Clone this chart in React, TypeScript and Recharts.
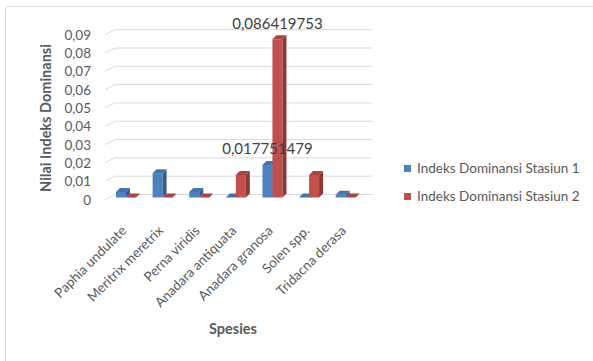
import { BarChart, Bar, XAxis, YAxis, CartesianGrid, LabelList, Label } from 'recharts';

const species = [
  'Paphia undulate',
  'Meritrix meretrix',
  'Perna viridis',
  'Anadara antiquata',
  'Anadara granosa',
  'Solen spp.',
  'Tridacna derasa',
];
const stasiun1 = [0.003, 0.0133, 0.003, 0, 0.017751479, 0, 0.0015];
const stasiun2 = [0, 0, 0, 0.012345679, 0.086419753, 0.012345679, 0];
const yTicks = [0, 0.01, 0.02, 0.03, 0.04, 0.05, 0.06, 0.07, 0.08, 0.09];
const labeled = ['Anadara granosa'];
const seriesNames = ['Indeks Dominansi Stasiun 1', 'Indeks Dominansi Stasiun 2'];

const FONT = 'Lato, "Open Sans", sans-serif';
const TEXT = '#595959';
const BLUE = '#4F81BD';
const RED = '#C0504D';
const DEPTH = 4;

const fmt = (v: number) => (v === 0 ? '0' : v.toString().replace('.', ','));

const data = species.map((name, i) => ({
  name,
  s1: stasiun1[i],
  s2: stasiun2[i],
  l1: labeled.includes(name) ? fmt(stasiun1[i]) : '',
  l2: labeled.includes(name) ? fmt(stasiun2[i]) : '',
}));

// fake 3d: front face, darker side, top
function shade(front: string, side: string, top: string) {
  return (props: any) => {
    const { x, y, width, height } = props;
    const h = Math.max(height || 0, 0);
    const d = DEPTH;
    return (
      <g>
        <rect x={x} y={y} width={width} height={h} fill={front} />
        <polygon
          points={`${x + width},${y} ${x + width + d},${y - d} ${x + width + d},${y + h - d} ${x + width},${y + h}`}
          fill={side}
        />
        <polygon
          points={`${x},${y} ${x + d},${y - d} ${x + width + d},${y - d} ${x + width},${y}`}
          fill={top}
        />
      </g>
    );
  };
}

const gridLine = (props: any) => {
  const { x1, x2, y1, index } = props;
  return (
    <path
      key={`g-${index}`}
      d={`M${x1 - 3},${y1 + 2} L${x1 + 7},${y1 - 3} L${x2 + 8},${y1 - 3}`}
      stroke="#d9d9d9"
      strokeWidth={1}
      fill="none"
    />
  );
};

const YTick = (props: any) => {
  const { y, payload } = props;
  return (
    <text x={91} y={y + 2} textAnchor="end" dominantBaseline="central" fill={TEXT} fontSize={13.5} fontFamily={FONT}>
      {payload.value === 0 ? '0' : payload.value.toFixed(2).replace('.', ',')}
    </text>
  );
};

const XTick = (props: any) => {
  const { x, y, payload } = props;
  const ax = x + 1;
  const ay = y + 26;
  return (
    <text x={ax} y={ay} textAnchor="end" transform={`rotate(-45, ${ax}, ${ay})`} fill={TEXT} fontSize={13.5} fontFamily={FONT}>
      {payload.value}
    </text>
  );
};

const titleStyle = { fill: TEXT, fontSize: 14.5, fontWeight: 700, fontFamily: FONT };

export default function App() {
  return (
    <div style={{ position: 'absolute', left: 0, top: 0, width: 593, height: 361, background: '#fff', overflow: 'hidden' }}>
      <div style={{ position: 'absolute', left: 5, top: 6, width: 620, height: 400, border: '1px solid #d9d9d9', borderRadius: 4 }} />
      <BarChart
        width={593}
        height={361}
        data={data}
        margin={{ top: 32.7, right: 228.7, bottom: 63.5, left: 0 }}
        barGap={0}
        barSize={10}
      >
        <CartesianGrid vertical={false} horizontal={gridLine} />
        <XAxis dataKey="name" axisLine={false} tickLine={false} interval={0} height={100} tick={<XTick />}>
          <Label
            content={() => (
              <text x={233} y={328} textAnchor="middle" dominantBaseline="central" {...titleStyle}>
                Spesies
              </text>
            )}
          />
        </XAxis>
        <YAxis width={108} domain={[0, 0.09]} ticks={yTicks} interval={0} axisLine={false} tickLine={false} tick={<YTick />}>
          <Label
            content={() => (
              <text x={45} y={118} textAnchor="middle" dominantBaseline="central" transform="rotate(-90, 45, 118)" {...titleStyle}>
                Nilai Indeks Dominansi
              </text>
            )}
          />
        </YAxis>
        <Bar dataKey="s1" name={seriesNames[0]} fill={BLUE} shape={shade(BLUE, '#385D8A', '#4473AD')} isAnimationActive={false}>
          <LabelList dataKey="l1" position="top" offset={11} fill="#404040" fontSize={15} fontFamily={FONT} />
        </Bar>
        <Bar dataKey="s2" name={seriesNames[1]} fill={RED} shape={shade(RED, '#8C3836', '#A94441')} isAnimationActive={false}>
          <LabelList dataKey="l2" position="top" offset={10} fill="#404040" fontSize={15} fontFamily={FONT} />
        </Bar>
      </BarChart>
      <div style={{ position: 'absolute', left: 404, top: 154, fontFamily: FONT, fontSize: 13.5, color: TEXT }}>
        {seriesNames.map((name, i) => (
          <div key={name} style={{ display: 'flex', alignItems: 'center', height: 28 }}>
            <span style={{ width: 7, height: 7, background: i === 0 ? BLUE : RED, marginRight: 6, display: 'inline-block' }} />
            <span>{name}</span>
          </div>
        ))}
      </div>
    </div>
  );
}
